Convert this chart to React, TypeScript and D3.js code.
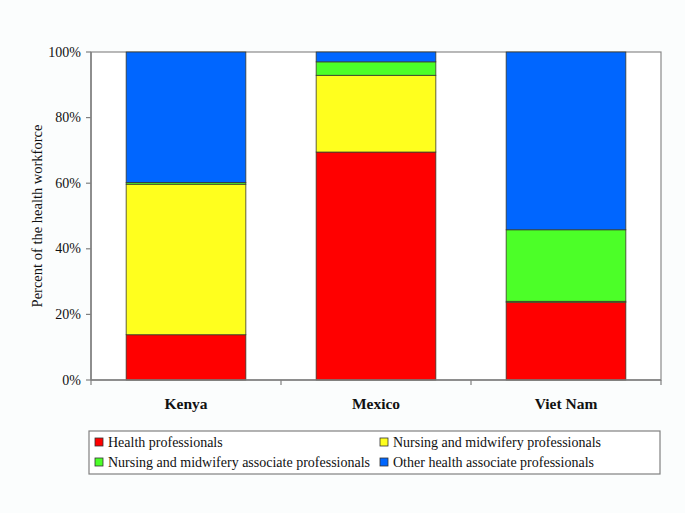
import { useEffect, useRef } from 'react';
import * as d3 from 'd3';

const countries = ['Kenya', 'Mexico', 'Viet Nam'];
const seriesNames = [
  'Health professionals',
  'Nursing and midwifery professionals',
  'Nursing and midwifery associate professionals',
  'Other health associate professionals'
];
const healthProfessionals = [13.8, 69.5, 23.7];
const nursingProfessionals = [45.9, 23.4, 0.3];
const nursingAssociates = [0.5, 4.1, 21.8];
const otherAssociates = [39.8, 3.0, 54.2];
const seriesColors = ['#ff0000', '#ffff1e', '#4cff28', '#0066ff'];
const yTicks = [0, 20, 40, 60, 80, 100];

const WIDTH = 685;
const HEIGHT = 513;
const SERIF = "'Liberation Serif', 'Times New Roman', Tinos, 'DejaVu Serif', serif";

export default function App() {
  const svgRef = useRef<SVGSVGElement | null>(null);

  useEffect(() => {
    if (!svgRef.current) return;
    const svg = d3.select(svgRef.current);
    svg.selectAll('*').remove();

    const plot = { left: 91, right: 661, top: 52, bottom: 380 };

    svg.append('rect').attr('width', WIDTH).attr('height', HEIGHT).attr('fill', '#fbfdfd');

    const x = d3
      .scaleBand<string>()
      .domain(countries)
      .range([plot.left, plot.right])
      .paddingInner(0.37)
      .paddingOuter(0.185);
    const y = d3.scaleLinear().domain([0, 100]).range([plot.bottom, plot.top]);

    svg
      .append('rect')
      .attr('x', plot.left)
      .attr('y', plot.top)
      .attr('width', plot.right - plot.left)
      .attr('height', plot.bottom - plot.top)
      .attr('fill', '#ffffff')
      .attr('stroke', '#8a8a8a')
      .attr('stroke-width', 1.2);

    const table = countries.map((c, i) => ({
      country: c,
      s0: healthProfessionals[i],
      s1: nursingProfessionals[i],
      s2: nursingAssociates[i],
      s3: otherAssociates[i]
    }));
    const stack = d3.stack<(typeof table)[number]>().keys(['s0', 's1', 's2', 's3']);
    const layers = stack(table);

    layers.forEach((layer, li) => {
      svg
        .append('g')
        .selectAll('rect')
        .data(layer)
        .join('rect')
        .attr('x', d => x(d.data.country) ?? 0)
        .attr('width', x.bandwidth())
        .attr('y', d => y(d[1]))
        .attr('height', d => y(d[0]) - y(d[1]))
        .attr('fill', seriesColors[li])
        .attr('stroke', '#3a3a2a')
        .attr('stroke-width', 0.8);
    });

    const txt = (sel: d3.Selection<SVGTextElement, unknown, null, undefined>, size: number) =>
      sel.style('font-family', SERIF).style('font-size', `${size}px`).attr('fill', '#111');

    // y axis
    const yAxis = svg.append('g');
    yAxis
      .append('line')
      .attr('x1', plot.left)
      .attr('x2', plot.left)
      .attr('y1', plot.top)
      .attr('y2', plot.bottom)
      .attr('stroke', '#808080')
      .attr('stroke-width', 1.5);
    yTicks.forEach(t => {
      yAxis
        .append('line')
        .attr('x1', plot.left - 5)
        .attr('x2', plot.left)
        .attr('y1', y(t))
        .attr('y2', y(t))
        .attr('stroke', '#808080')
        .attr('stroke-width', 1.2);
      yAxis
        .append('text')
        .attr('x', plot.left - 10)
        .attr('y', y(t) + 4.5)
        .attr('text-anchor', 'end')
        .call(s => txt(s as never, 14))
        .text(`${t}%`);
    });

    svg
      .append('text')
      .attr('transform', `translate(42, ${(plot.top + plot.bottom) / 2}) rotate(-90)`)
      .attr('text-anchor', 'middle')
      .call(s => txt(s as never, 14.5))
      .text('Percent of the health workforce');

    // x axis
    const xAxis = svg.append('g');
    xAxis
      .append('line')
      .attr('x1', plot.left)
      .attr('x2', plot.right)
      .attr('y1', plot.bottom)
      .attr('y2', plot.bottom)
      .attr('stroke', '#808080')
      .attr('stroke-width', 1.5);
    const step = x.step();
    const bounds = d3.range(countries.length + 1).map(i => plot.left + i * step);
    bounds.forEach(b => {
      xAxis
        .append('line')
        .attr('x1', b)
        .attr('x2', b)
        .attr('y1', plot.bottom)
        .attr('y2', plot.bottom + 5)
        .attr('stroke', '#808080')
        .attr('stroke-width', 1.2);
    });
    countries.forEach(c => {
      xAxis
        .append('text')
        .attr('x', (x(c) ?? 0) + x.bandwidth() / 2)
        .attr('y', 409)
        .attr('text-anchor', 'middle')
        .call(s => txt(s as never, 15.5))
        .style('font-weight', 'bold')
        .text(c);
    });

    // legend
    const legend = svg.append('g');
    legend
      .append('rect')
      .attr('x', 89)
      .attr('y', 431)
      .attr('width', 571)
      .attr('height', 43)
      .attr('fill', '#ffffff')
      .attr('stroke', '#808080')
      .attr('stroke-width', 1.2);
    const cols = [95, 380];
    const rows = [442, 462];
    seriesNames.forEach((name, i) => {
      const cx = cols[i % 2];
      const cy = rows[Math.floor(i / 2)];
      legend
        .append('rect')
        .attr('x', cx)
        .attr('y', cy - 4)
        .attr('width', 8)
        .attr('height', 8)
        .attr('fill', seriesColors[i])
        .attr('stroke', '#333')
        .attr('stroke-width', 0.8);
      legend
        .append('text')
        .attr('x', cx + 13)
        .attr('y', cy + 4.5)
        .call(s => txt(s as never, 14))
        .text(name);
    });
  }, []);

  return (
    <svg
      ref={svgRef}
      width={WIDTH}
      height={HEIGHT}
      style={{ position: 'absolute', left: 0, top: 0, display: 'block' }}
    />
  );
}
